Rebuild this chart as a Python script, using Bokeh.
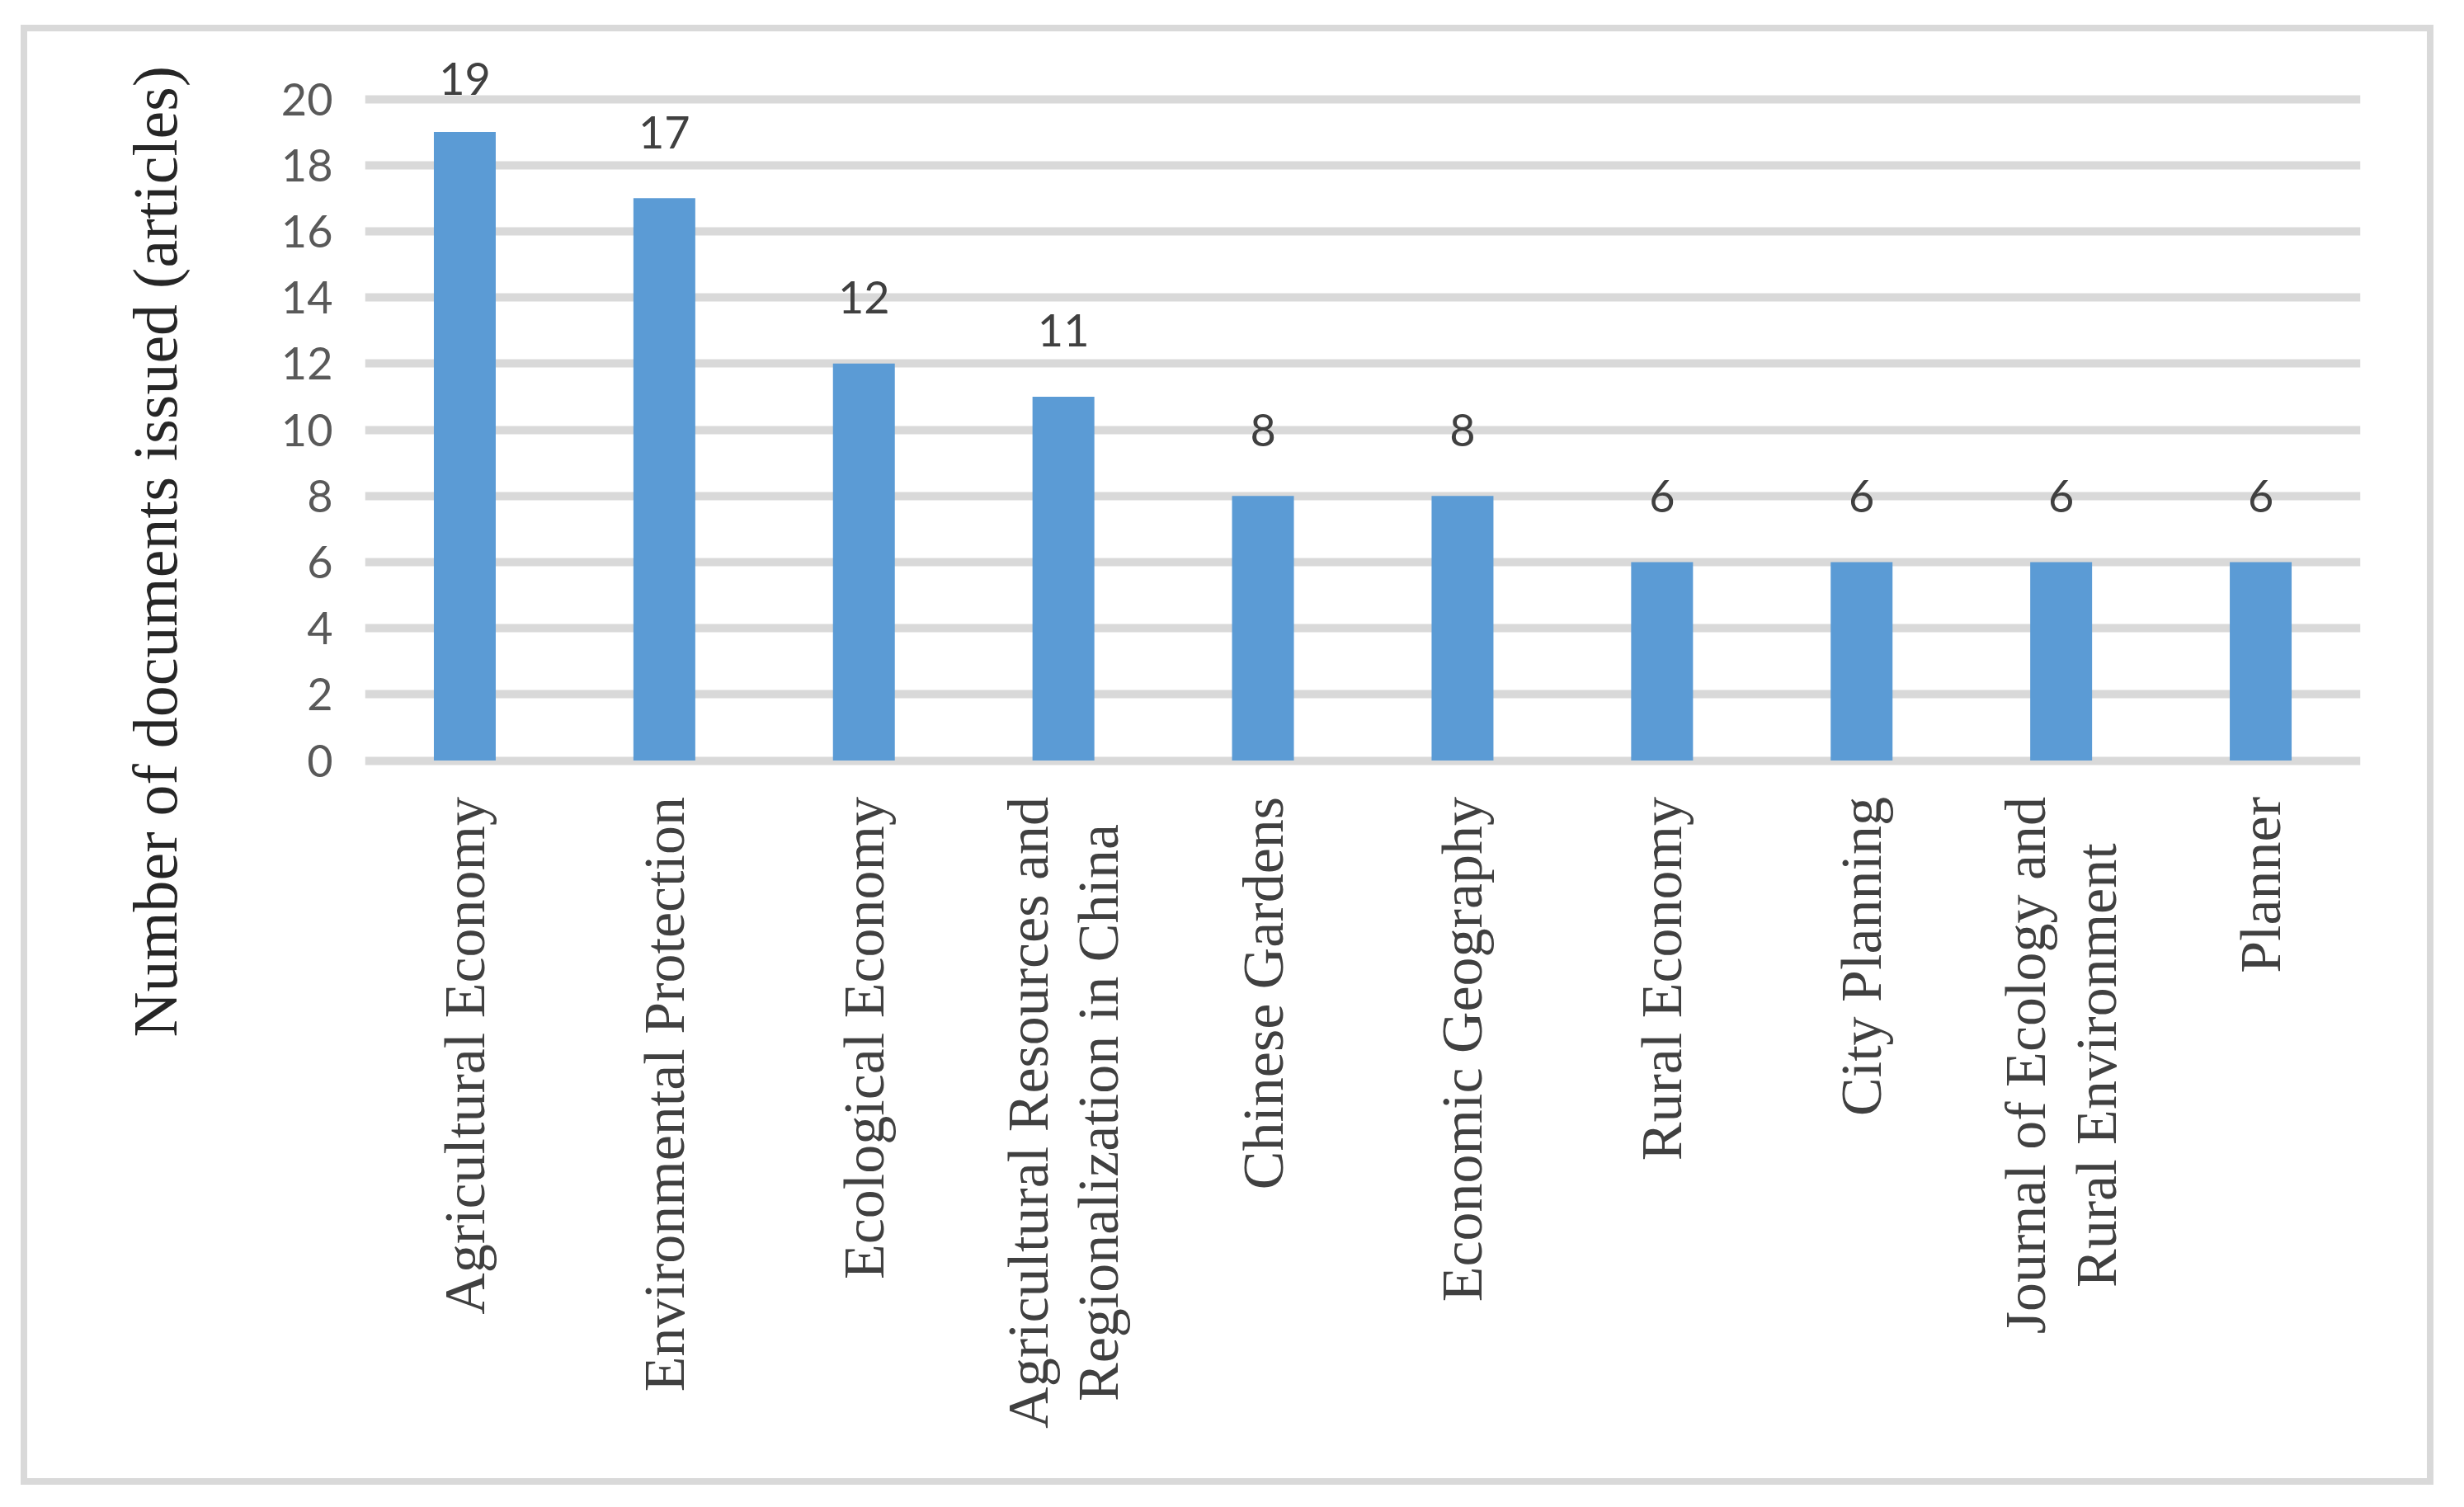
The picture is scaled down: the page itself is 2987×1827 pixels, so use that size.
import math
from bokeh.plotting import figure
from bokeh.models import ColumnDataSource, FixedTicker, LabelSet, Title
from bokeh.core.properties import value
from bokeh.embed import file_html
from bokeh.resources import INLINE

# ---- data ----
journals = [
    "Agricultural Economy",
    "Environmental Protection",
    "Ecological Economy",
    "Agricultural Resources and Regionalization in China",
    "Chinese Gardens",
    "Economic Geography",
    "Rural Economy",
    "City Planning",
    "Journal of Ecology and Rural Environment",
    "Planner",
]
label_lines = [
    ["Agricultural Economy"],
    ["Environmental Protection"],
    ["Ecological Economy"],
    ["Agricultural Resources and", "Regionalization in China"],
    ["Chinese Gardens"],
    ["Economic Geography"],
    ["Rural Economy"],
    ["City Planning"],
    ["Journal of Ecology and", "Rural Environment"],
    ["Planner"],
]
documents = [19, 17, 12, 11, 8, 8, 6, 6, 6, 6]
y_ticks = [0, 2, 4, 6, 8, 10, 12, 14, 16, 18, 20]
y_title = "Number of documents issued (articles)"

# ---- layout / styles (pixels) ----
W, H = 2925, 1770          # size of the figure (border drawn by CSS around it)
BORDER = 8
VALUE_TOP_PX = 81.5        # canvas top -> "20" gridline
VALUE_BOTTOM_PX = 883.5    # canvas top -> "0" gridline
PPU = (VALUE_BOTTOM_PX - VALUE_TOP_PX) / (y_ticks[-1] - y_ticks[0])
Y_END = y_ticks[-1] + VALUE_TOP_PX / PPU
Y_START = y_ticks[0] - (H - VALUE_BOTTOM_PX) / PPU

LABEL_GAP_PX = 80          # bar top -> value label centre
LABEL_CAP_PX = 24.5        # value labels kept below this height above the top gridline

XLAB_SIZE = 70
XLAB_LINE = 1.22 * XLAB_SIZE
XLAB_STANDOFF = 44

# Times / Liberation Serif advance widths (1/1000 em), for centring wrapped labels
TIMES_W = {' ': 250, 'a': 444, 'b': 500, 'c': 444, 'd': 500, 'e': 444, 'f': 333, 'g': 500,
           'h': 500, 'i': 278, 'j': 278, 'k': 500, 'l': 278, 'm': 778, 'n': 500, 'o': 500,
           'p': 500, 'q': 500, 'r': 333, 's': 389, 't': 278, 'u': 500, 'v': 500, 'w': 722,
           'x': 500, 'y': 500, 'z': 444, 'A': 722, 'B': 667, 'C': 667, 'D': 722, 'E': 611,
           'F': 556, 'G': 722, 'H': 722, 'I': 333, 'J': 389, 'K': 722, 'L': 611, 'M': 889,
           'N': 722, 'O': 722, 'P': 556, 'Q': 722, 'R': 667, 'S': 556, 'T': 611, 'U': 722,
           'V': 722, 'W': 944, 'X': 722, 'Y': 722, 'Z': 611}


def text_px(s, size):
    return sum(TIMES_W.get(c, 500) for c in s) / 1000.0 * size


source = ColumnDataSource(dict(
    journal=journals,
    documents=documents,
    label=[str(v) for v in documents],
    label_y=[min(v + LABEL_GAP_PX / PPU, y_ticks[-1] + LABEL_CAP_PX / PPU) for v in documents],
))

# category name rows: single-line ones right-aligned at the axis,
# wrapped ones centred as a block
s_x, s_t = [], []
m_x, m_t, m_xo, m_yo = [], [], [], []
for j, lines in zip(journals, label_lines):
    if len(lines) == 1:
        s_x.append(j)
        s_t.append(lines[0])
    else:
        n = len(lines)
        block = max(text_px(t, XLAB_SIZE) for t in lines)
        for k, t in enumerate(lines):
            m_x.append(j)
            m_t.append(t)
            m_xo.append((k - (n - 1) / 2) * XLAB_LINE)
            m_yo.append(-(XLAB_STANDOFF + block / 2))
single_src = ColumnDataSource(dict(x=s_x, text=s_t, y=[y_ticks[0]] * len(s_x)))
multi_src = ColumnDataSource(dict(x=m_x, text=m_t, xoff=m_xo, yoff=m_yo,
                                  y=[y_ticks[0]] * len(m_x)))

p = figure(
    x_range=journals,
    y_range=(Y_START, Y_END),
    width=W,
    height=H,
    output_backend="svg",
    toolbar_location=None,
    x_axis_location=None,
    min_border_left=409,
    min_border_right=97,
    min_border_top=0,
    min_border_bottom=0,
    background_fill_color="white",
    border_fill_color="white",
    outline_line_color=None,
    styles={"border": f"{BORDER}px solid #d9d9d9", "transform": "translate(25px, 30px)"},
)

p.vbar(x="journal", top="documents", width=0.31, source=source,
       fill_color="#5b9bd5", line_color=None)

p.text(x="journal", y="label_y", text="label", source=source,
       text_align="center", text_baseline="middle",
       text_font=value("Lato"), text_font_size="54px", text_color="#404040")

# grid
p.xgrid.grid_line_color = None
p.ygrid.grid_line_color = "#d9d9d9"
p.ygrid.grid_line_width = 10
p.ygrid.ticker = FixedTicker(ticks=y_ticks)

# y axis
p.yaxis.ticker = FixedTicker(ticks=y_ticks)
p.yaxis.axis_line_color = None
p.yaxis.major_tick_line_color = None
p.yaxis.minor_tick_line_color = None
p.yaxis.major_tick_out = 0
p.yaxis.major_tick_in = 0
p.yaxis.major_label_standoff = 39
p.yaxis.major_label_text_font = "Lato"
p.yaxis.major_label_text_font_size = "54px"
p.yaxis.major_label_text_color = "#595959"

p.add_layout(Title(text=y_title, align="left", offset=551, standoff=215,
                   text_font="Liberation Serif", text_font_size="76px",
                   text_font_style="normal", text_color="#262626"), "left")

# category names below the zero line
common = dict(angle=math.pi / 2, text_font=value("Liberation Serif"),
              text_font_size=f"{XLAB_SIZE}px", text_color="#404040")
p.add_layout(LabelSet(x="x", y="y", text="text", source=single_src,
                      y_offset=-XLAB_STANDOFF, text_align="right",
                      text_baseline="middle", **common))
p.add_layout(LabelSet(x="x", y="y", text="text", source=multi_src,
                      x_offset="xoff", y_offset="yoff", text_align="center",
                      text_baseline="middle", **common))

open("out.html", "w").write(file_html(p, INLINE))
